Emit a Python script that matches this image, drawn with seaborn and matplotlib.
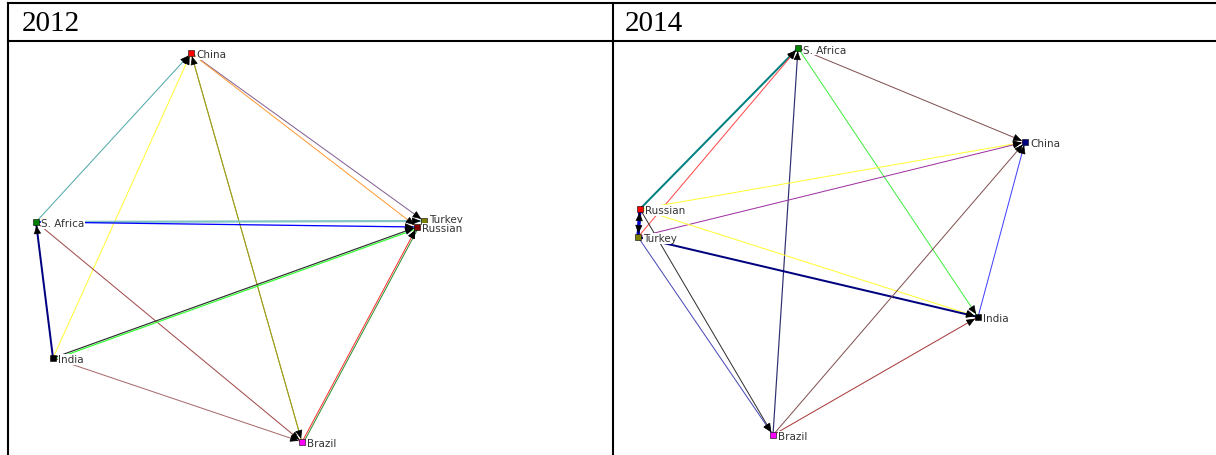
import numpy as np
import pandas as pd
import seaborn as sns
import matplotlib
matplotlib.use('Agg')
import matplotlib.pyplot as plt

# node layout (pixel positions in the picture), one set per year
nodes_2012 = ['China', 'S. Africa', 'Turkey', 'Russian', 'India', 'Brazil']
x_2012 = [191, 36, 424, 417, 53, 302]
y_2012 = [54, 223, 222, 228, 359, 443]
ncol_2012 = ['#ff0000', '#008000', '#808000', '#800000', '#000000', '#ff00ff']

nodes_2014 = ['S. Africa', 'China', 'Russian', 'Turkey', 'India', 'Brazil']
x_2014 = [798, 1025, 640, 638, 978, 773]
y_2014 = [49, 143, 210, 238, 318, 436]
ncol_2014 = ['#008000', '#000080', '#ff0000', '#808000', '#000000', '#ff00ff']

# edges: source -> target (arrow at target)
src_2012 = ['S. Africa', 'India', 'Brazil', 'China', 'China', 'China', 'S. Africa', 'S. Africa',
            'India', 'S. Africa', 'India', 'India', 'India', 'Brazil', 'Brazil']
dst_2012 = ['China', 'China', 'China', 'Brazil', 'Turkey', 'Russian', 'Turkey', 'Russian',
            'S. Africa', 'Brazil', 'Russian', 'Russian', 'Brazil', 'Russian', 'Russian']
ecol_2012 = ['#50a8a8', '#ffff33', '#a0a020', '#a0a020', '#806090', '#ff9933', '#80c4c4', '#0000ff',
             '#000080', '#a04848', '#303030', '#33ff33', '#a86868', '#ff3030', '#309030']
ewid_2012 = [1, 1, 1, 1, 1, 1, 2.2, 1.3, 2, 1, 1.2, 1.2, 1, 1, 1]

src_2014 = ['Russian', 'Turkey', 'Brazil', 'S. Africa', 'S. Africa', 'Russian', 'Turkey', 'Russian',
            'Turkey', 'India', 'Brazil', 'Brazil', 'Russian', 'Turkey', 'Russian', 'Turkey']
dst_2014 = ['S. Africa', 'S. Africa', 'S. Africa', 'China', 'India', 'China', 'China', 'India',
            'India', 'China', 'China', 'India', 'Turkey', 'Russian', 'Brazil', 'Brazil']
ecol_2014 = ['#008080', '#ff4848', '#303070', '#805050', '#40ee40', '#ffff33', '#a030a0', '#ffff33',
             '#000080', '#4040ff', '#805050', '#a83838', '#0000cc', '#0000cc', '#303030', '#4848b8']
ewid_2014 = [2, 1, 1.2, 1, 1, 1, 1, 1, 2, 1, 1, 1, 3, 3, 1, 1]

headers = ['2012', '2014']
header_x = [22, 625]

W, H = 1216, 456
fig = plt.figure(figsize=(W / 100, H / 100), dpi=100)
ax = fig.add_axes([0, 0, 1, 1])
ax.set_xlim(0, W)
ax.set_ylim(H, 0)
ax.axis('off')

# table frame
lw_frame = 1.5
ax.plot([8, W], [4, 4], color='black', lw=lw_frame)
ax.plot([8, W], [42, 42], color='black', lw=lw_frame)
ax.plot([8, 8], [4, H], color='black', lw=lw_frame)
ax.plot([613, 613], [4, H], color='black', lw=lw_frame)

for hx, txt in zip(header_x, headers):
    ax.text(hx, 31, txt, fontsize=21, family='Liberation Serif', ha='left', va='baseline')


def draw_net(names, xs, ys, ncols, srcs, dsts, ecols, ewids, top_label=None):
    pos = {n: (x, y) for n, x, y in zip(names, xs, ys)}
    seen = {}
    for s, d, c, w in zip(srcs, dsts, ecols, ewids):
        x1, y1 = pos[s]
        x2, y2 = pos[d]
        v = np.array([x2 - x1, y2 - y1], dtype=float)
        v = v / np.hypot(*v)
        # nudge repeated edges (of another colour) between the same pair
        key = frozenset((s, d))
        prev = seen.setdefault(key, [])
        k = len([pc for pc in prev if pc != c])
        prev.append(c)
        off = 1.6 * k
        nx, ny = -v[1] * off, v[0] * off
        ax.plot([x1 + nx, x2 + nx], [y1 + ny, y2 + ny], color=c, lw=w * 0.72, zorder=2,
                solid_capstyle='butt')
        ax.annotate('', xy=(x2, y2), xytext=(x2 - v[0] * 9, y2 - v[1] * 9),
                    arrowprops=dict(arrowstyle='-|>,head_length=0.7,head_width=0.3',
                                    color='black', lw=0.5, shrinkA=0, shrinkB=2.5,
                                    mutation_scale=7.5), zorder=3)
    df = pd.DataFrame({'name': names, 'x': xs, 'y': ys})
    sns.scatterplot(data=df, x='x', y='y', hue='name', palette=dict(zip(names, ncols)),
                    marker='s', s=16, edgecolor='black', linewidth=0.4, legend=False,
                    ax=ax, zorder=5)
    for n, x, y in zip(names, xs, ys):
        z = 7 if n == top_label else 6
        dy = -2 if (top_label is not None and n == 'Turkey') else 1.5
        ax.text(x + 5, y + dy, n, fontsize=7.5, family='DejaVu Sans', color='#333333',
                ha='left', va='center', zorder=z,
                bbox=dict(facecolor='white', edgecolor='none', pad=0.3))


draw_net(nodes_2012, x_2012, y_2012, ncol_2012, src_2012, dst_2012, ecol_2012, ewid_2012,
         top_label='Russian')
draw_net(nodes_2014, x_2014, y_2014, ncol_2014, src_2014, dst_2014, ecol_2014, ewid_2014)

ax.set_xlim(0, W)
ax.set_ylim(H, 0)
ax.set_xlabel('')
ax.set_ylabel('')
fig.savefig('out.png', dpi=100)
